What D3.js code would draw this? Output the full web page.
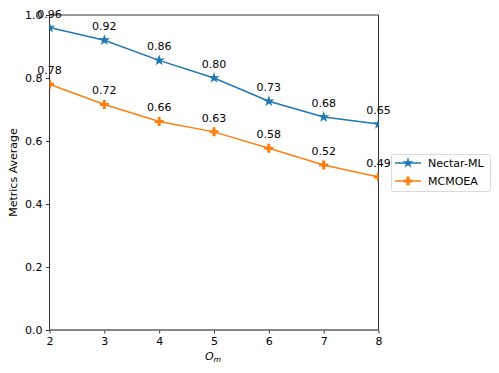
<!DOCTYPE html>
<html><head><meta charset="utf-8">
<script src="https://cdn.jsdelivr.net/npm/d3@7"></script>
<style>body{margin:0;background:#fff}svg{display:block}text{font-family:"DejaVu Sans",sans-serif}</style>
</head><body>
<script>
const xValues = [2, 3, 4, 5, 6, 7, 8];
const nectarML = [0.96, 0.92, 0.856, 0.80, 0.726, 0.676, 0.654];
const mcmoea = [0.78, 0.716, 0.662, 0.629, 0.577, 0.524, 0.486];
const seriesNames = ["Nectar-ML", "MCMOEA"];
const seriesColors = ["#1f77b4", "#ff7f0e"];
const yTicks = [0.0, 0.2, 0.4, 0.6, 0.8, 1.0];

const W = 499, H = 373;
const m = {l: 49.5, r: 378.5, t: 15, b: 330};
const svg = d3.select("body").append("svg").attr("width", W).attr("height", H);
const x = d3.scaleLinear().domain([2, 8]).range([m.l, m.r]);
const y = d3.scaleLinear().domain([0, 1]).range([m.b, m.t]);

svg.append("defs").append("clipPath").attr("id", "clip")
  .append("rect").attr("x", m.l).attr("y", m.t).attr("width", m.r - m.l).attr("height", m.b - m.t);

const fs = 11;
const xAxis = svg.append("g").attr("transform", `translate(0,${m.b})`)
  .call(d3.axisBottom(x).tickValues(xValues).tickFormat(d3.format("d")).tickSize(3.5).tickPadding(3.5));
const yAxis = svg.append("g").attr("transform", `translate(${m.l},0)`)
  .call(d3.axisLeft(y).tickValues(yTicks).tickFormat(d3.format(".1f")).tickSize(3.5).tickPadding(3.5));
[xAxis, yAxis].forEach(a => {
  a.select(".domain").remove();
  a.selectAll("text").attr("font-size", fs).attr("fill", "#000").style("font-family", "DejaVu Sans");
  a.selectAll("line").attr("stroke", "#000").attr("stroke-width", 0.8);
});

// spines
svg.append("rect").attr("x", m.l).attr("y", m.t).attr("width", m.r - m.l).attr("height", m.b - m.t)
  .attr("fill", "none").attr("stroke", "#000").attr("stroke-width", 0.8);
// gray baseline at y = 0
svg.append("line").attr("x1", m.l).attr("x2", m.r).attr("y1", y(0)).attr("y2", y(0))
  .attr("stroke", "#808080").attr("stroke-width", 1.6);

const data = [nectarML, mcmoea];
const symbols = [d3.symbolStar, d3.symbolCross];
const plot = svg.append("g").attr("clip-path", "url(#clip)");
const line = d3.line().x((d, i) => x(xValues[i])).y(d => y(d));
data.forEach((vals, s) => {
  plot.append("path").datum(vals).attr("d", line).attr("fill", "none")
    .attr("stroke", seriesColors[s]).attr("stroke-width", 1.5);
  plot.selectAll(null).data(vals).enter().append("path")
    .attr("d", d3.symbol().type(symbols[s]).size(s === 0 ? 40 : 45))
    .attr("transform", (d, i) => `translate(${x(xValues[i])},${y(d)})`)
    .attr("fill", seriesColors[s]);
  svg.selectAll(null).data(vals).enter().append("text")
    .attr("x", (d, i) => x(xValues[i])).attr("y", d => y(d) - 10)
    .attr("text-anchor", "middle").attr("font-size", fs).text(d => d.toFixed(2));
});

// axis labels
const xl = svg.append("text").attr("x", 213).attr("y", 360).attr("text-anchor", "middle").attr("font-size", fs);
xl.append("tspan").attr("font-style", "italic").text("O");
xl.append("tspan").attr("font-style", "italic").attr("font-size", fs * 0.7).attr("dy", 2).text("m");
svg.append("text").attr("transform", `translate(17,${(m.t + m.b) / 2}) rotate(-90)`)
  .attr("text-anchor", "middle").attr("font-size", fs).text("Metrics Average");

// legend
const lg = svg.append("g");
lg.append("rect").attr("x", 391.5).attr("y", 154.5).attr("width", 99).attr("height", 37).attr("rx", 2)
  .attr("fill", "#fff").attr("stroke", "#d0d0d0").attr("stroke-width", 0.8);
seriesNames.forEach((n, s) => {
  const ly = 163 + s * 18;
  lg.append("line").attr("x1", 395).attr("x2", 421).attr("y1", ly).attr("y2", ly)
    .attr("stroke", seriesColors[s]).attr("stroke-width", 1.5);
  lg.append("path").attr("d", d3.symbol().type(symbols[s]).size(s === 0 ? 40 : 45))
    .attr("transform", `translate(408,${ly})`).attr("fill", seriesColors[s]);
  lg.append("text").attr("x", 428).attr("y", ly + 4).attr("font-size", fs).text(n);
});
</script>
</body></html>
